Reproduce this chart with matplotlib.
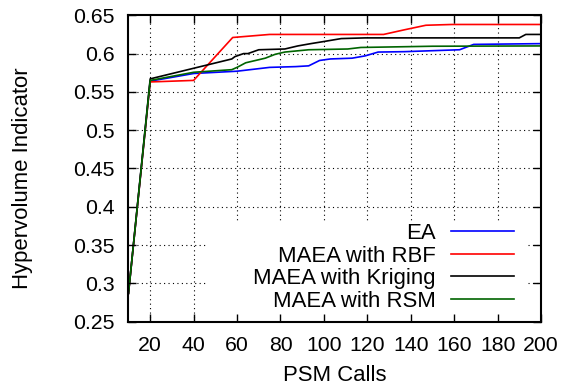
import matplotlib
matplotlib.use("Agg")
import matplotlib.pyplot as plt
from matplotlib.patches import Rectangle

plt.rcParams['font.family'] = ['Liberation Sans', 'DejaVu Sans']

# Hypervolume indicator versus number of PSM calls
ea_x = [10, 20, 40, 60, 66, 75, 87, 93, 98, 103, 113, 119, 125, 137, 162.5, 169, 200]
ea_y = [0.287, 0.564, 0.574, 0.577, 0.579, 0.582, 0.583, 0.584, 0.591, 0.593,
        0.594, 0.597, 0.602, 0.6025, 0.605, 0.612, 0.613]

rbf_x = [10, 20, 40, 58, 75, 127.5, 137, 147, 159, 200]
rbf_y = [0.287, 0.563, 0.565, 0.621, 0.625, 0.625, 0.631, 0.637, 0.638, 0.638]

krg_x = [10, 20, 57.6, 59, 63, 65, 67, 70, 82, 88, 94, 100.5, 108, 119, 190, 193, 200]
krg_y = [0.287, 0.567, 0.593, 0.596, 0.600, 0.600, 0.602, 0.605, 0.606, 0.610,
         0.613, 0.616, 0.6196, 0.6205, 0.6205, 0.625, 0.625]

rsm_x = [10, 20, 40, 57.6, 60, 64, 68.5, 73, 77.5, 82, 93, 111, 117, 150, 200]
rsm_y = [0.287, 0.565, 0.5756, 0.579, 0.582, 0.588, 0.591, 0.594, 0.599, 0.602,
         0.605, 0.606, 0.608, 0.6096, 0.610]

series_labels = ["EA", "MAEA with RBF", "MAEA with Kriging", "MAEA with RSM"]
series_colors = ["#0000ff", "#ff0000", "#000000", "#006400"]

x_ticks = [20, 40, 60, 80, 100, 120, 140, 160, 180, 200]
y_ticks = [0.25, 0.3, 0.35, 0.4, 0.45, 0.5, 0.55, 0.6, 0.65]

tick_fs = 15.3
text_fs = 15.9

fig = plt.figure(figsize=(5.63, 3.87), dpi=100)
ax = fig.add_axes([0.2282, 0.1687, 0.9609 - 0.2282, 0.9605 - 0.1687])
ax.set_xlim(10, 200)
ax.set_ylim(0.25, 0.65)

# dotted grid, drawn underneath everything else
for xv in x_ticks[:-1]:
    ax.axvline(xv, color="black", lw=0.8, ls=(0, (1, 3)), zorder=0.5)
for yv in y_ticks[1:-1]:
    ax.axhline(yv, color="black", lw=0.8, ls=(0, (1, 3)), zorder=0.5)

# opaque key area
ax.add_patch(Rectangle((0.189, 0.0), 0.966 - 0.189, 0.325, transform=ax.transAxes,
                       facecolor="white", edgecolor="none", zorder=0.8))

for xs, ys, lab, col in zip([ea_x, rbf_x, krg_x, rsm_x], [ea_y, rbf_y, krg_y, rsm_y],
                            series_labels, series_colors):
    ax.plot(xs, ys, color=col, lw=1.2, label=lab, zorder=2)

ax.set_xticks(x_ticks)
ax.set_xticklabels([str(v) for v in x_ticks])
ax.set_yticks(y_ticks)
ax.set_yticklabels(["0.25", "0.3", "0.35", "0.4", "0.45", "0.5", "0.55", "0.6", "0.65"])
ax.tick_params(direction="in", length=6, width=1.0, top=True, right=True,
               labelsize=tick_fs, pad=10, colors="black")
ax.tick_params(axis="x", pad=10)
for sp in ax.spines.values():
    sp.set_linewidth(1.5)
    sp.set_zorder(6)
ax.xaxis.set_zorder(6)
ax.yaxis.set_zorder(6)

ax.set_xlabel("PSM Calls", fontsize=text_fs)
ax.set_ylabel("Hypervolume Indicator", fontsize=text_fs)
ax.xaxis.set_label_coords(0.5, -0.141)
ax.yaxis.set_label_coords(-0.232, 0.469)

leg = ax.legend(loc="lower right", bbox_to_anchor=(0.9357, 0.033), frameon=False,
                markerfirst=False, fontsize=text_fs, handlelength=2.88, handletextpad=0.68,
                labelspacing=0.07, borderpad=0.0, borderaxespad=0.0)
leg.set_zorder(5)

fig.savefig("out.png", dpi=100)
